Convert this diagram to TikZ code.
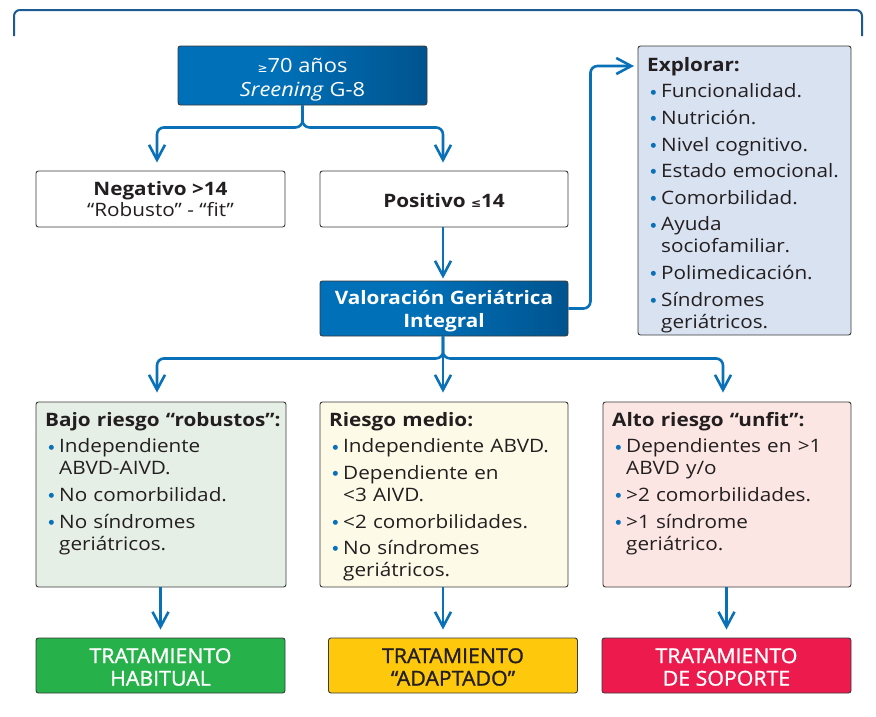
\documentclass[tikz,border=0pt]{standalone}
\usepackage{fontspec}
\setmainfont[FakeStretch=1.12]{Open Sans}
\newfontfamily\symf{DejaVu Sans}
\newfontfamily\medf[FakeStretch=1.04,FakeBold=1.2]{Open Sans}
\usetikzlibrary{arrows.meta}
\definecolor{bluec}{HTML}{0A71B9}
\definecolor{framec}{HTML}{1D5A92}
\definecolor{bordc}{HTML}{3A3A3A}
\definecolor{gA}{HTML}{0070B8}
\definecolor{gB}{HTML}{003C6C}
\definecolor{expc}{HTML}{D9E2F1}
\definecolor{lgreen}{HTML}{E6EFE5}
\definecolor{lyellow}{HTML}{FDFBE7}
\definecolor{lpink}{HTML}{FCE6E3}
\definecolor{tgreen}{HTML}{27B14A}
\definecolor{tyellow}{HTML}{FEC80C}
\definecolor{tred}{HTML}{EC1A4D}
\definecolor{txt}{HTML}{231F20}
\pgfdeclarehorizontalshading{vgishade}{100bp}{color(0bp)=(gA); color(45bp)=(gA); color(100bp)=(gB)}
\newcommand\bul{\makebox[14pt][l]{\hspace{3.5pt}\raisebox{3.8pt}{\textcolor{bluec}{\symf\fontsize{6.5}{6.5}\selectfont ●}}}}
\newcommand\itm[1]{\par\hangindent=14pt\hangafter=1\noindent\bul#1\par}
\newcommand\gesym{{\symf\fontsize{12}{12}\selectfont ≥}}
\newcommand\lesym{{\symf\fontsize{12}{12}\selectfont ≤}}
\begin{document}
\begin{tikzpicture}[x=1pt,y=-1pt,
  box/.style={draw=bordc, line width=0.9pt, rounded corners=2.5pt, inner sep=0pt},
  bluebox/.style={box, shading=vgishade},
  bluetext/.style={text=white, align=center, inner sep=0pt, font=\fontsize{19.5}{24}\selectfont},
  whitebox/.style={box, fill=white},
  blacktext/.style={text=txt, align=center, inner sep=0pt, font=\fontsize{18.5}{21}\selectfont},
  treat/.style={box, minimum width=249pt, minimum height=55pt},
  treattext/.style={align=center, inner sep=0pt, font=\medf\fontsize{20.5}{22.5}\selectfont},
  listtext/.style={anchor=north west, inner sep=0pt, text=txt, font=\fontsize{18.5}{22}\selectfont\setlength{\parskip}{4.6pt}},
  conn/.style={draw=bluec, line width=2.6pt, rounded corners=7pt, -{Straight Barb[length=15pt,width=16pt]}},
  frame/.style={draw=framec, line width=2pt, rounded corners=6pt}]
\useasboundingbox (0,0) rectangle (876,716);
\draw[frame] (14,36) -- (14,10) -- (862,10) -- (862,36);

\node[bluebox, minimum width=249pt, minimum height=59pt] (top) at (302.5,75.5) {};
\node[bluetext] (topt) at (302.5,80) {\gesym70 años\\\textit{Sreening} G-8};
\node[whitebox, minimum width=249pt, minimum height=56pt] (neg) at (160.5,199) {};
\node[blacktext] (negt) at (160.5,199.5) {\textbf{Negativo >14}\\“Robusto” - “fit”};
\node[whitebox, minimum width=248pt, minimum height=56pt] (pos) at (444,199) {};
\node[blacktext] (post) at (444,200.5) {\textbf{Positivo \lesym14}};
\node[bluebox, minimum width=248pt, minimum height=55pt] (vgi) at (444,308.5) {};
\node[bluetext, font=\bfseries\fontsize{18.5}{23}\selectfont] (vgit) at (444,311.5) {Valoración Geriátrica\\Integral};

\node[box, fill=expc, minimum width=213pt, minimum height=289pt] (exp) at (744.5,190.5) {};
\node[listtext, text width=200pt] (expt) at (647,57) {\raggedright\noindent\textbf{Explorar:}
\itm{Funcionalidad.}\itm{Nutrición.}\itm{Nivel cognitivo.}\itm{Estado emocional.}\itm{Comorbilidad.}\itm{Ayuda\newline sociofamiliar.}\itm{Polimedicación.}\itm{Síndromes\newline geriátricos.}};
\coordinate (expin) at (638,66);

\node[box, fill=lgreen, minimum width=250pt, minimum height=185pt] (b1) at (161,494.5) {};
\node[box, fill=lyellow, minimum width=248pt, minimum height=185pt] (b2) at (444,494.5) {};
\node[box, fill=lpink, minimum width=248pt, minimum height=185pt] (b3) at (727,494.5) {};

\node[listtext, text width=240pt] (b1t) at (45,412) {\raggedright\noindent\textbf{Bajo riesgo “robustos”:}
\itm{Independiente\newline ABVD-AIVD.}\itm{No comorbilidad.}\itm{No síndromes\newline geriátricos.}};
\node[listtext, text width=240pt] (b2t) at (329,412) {\raggedright\noindent\textbf{Riesgo medio:}
\itm{Independiente ABVD.}\itm{Dependiente en\newline <3 AIVD.}\itm{<2 comorbilidades.}\itm{No síndromes\newline geriátricos.}};
\node[listtext, text width=240pt] (b3t) at (612,412) {\raggedright\noindent\textbf{Alto riesgo “unfit”:}
\itm{Dependientes en >1\newline ABVD y/o}\itm{>2 comorbilidades.}\itm{>1 síndrome\newline geriátrico.}};

\node[treat, fill=tgreen] (t1) at (160.5,665.5) {};
\node[treattext, text=white] (t1t) at (160.5,667) {TRATAMIENTO\\HABITUAL};
\node[treat, fill=tyellow] (t2) at (453,665.5) {};
\node[treattext, text=txt] (t2t) at (453,667) {TRATAMIENTO\\“ADAPTADO”};
\node[treat, fill=tred] (t3) at (726.5,665.5) {};
\node[treattext, text=white] (t3t) at (726.5,667) {TRATAMIENTO\\DE SOPORTE};

% connectors
\draw[conn, shorten >=8pt] (top.south) -- ++(0,22) -| ([xshift=-3.5pt]neg.north);
\draw[conn, shorten >=8pt] (top.south) -- ++(0,22) -| ([xshift=-1pt]pos.north);
\draw[conn, shorten >=2pt] ([xshift=-1pt]pos.south) -- ([xshift=-1pt]vgi.north);
\draw[conn, shorten >=4pt] (vgi.east) -- ++(22,0) |- (expin);
\draw[conn, shorten >=9pt] ([xshift=-1pt]vgi.south) -- ++(0,22) -| ([xshift=-4pt]b1.north);
\draw[conn, shorten >=9pt] ([xshift=-1pt]vgi.south) -- ([xshift=-1pt]b2.north);
\draw[conn, shorten >=9pt] ([xshift=-1pt]vgi.south) -- ++(0,22) -| ([xshift=-4pt]b3.north);
\draw[conn, shorten >=8pt] (b1.south -| t1.north) -- (t1.north);
\draw[conn, shorten >=8pt] ([xshift=-1pt]b2.south) -- ([xshift=-1pt]b2.south |- t2.north);
\draw[conn, shorten >=8pt] (b3.south -| t3.north) -- (t3.north);
\end{tikzpicture}
\end{document}
